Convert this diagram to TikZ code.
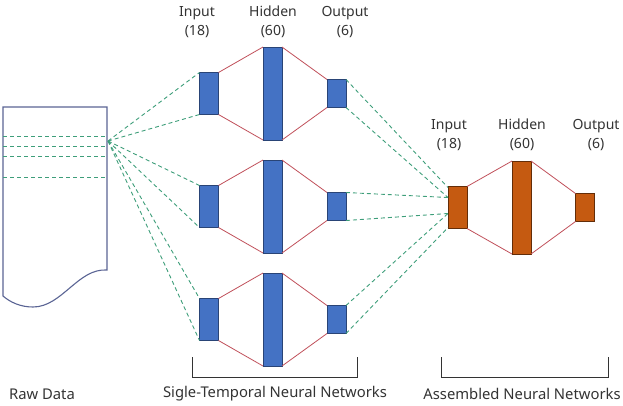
\documentclass[tikz,border=0pt]{standalone}
\usepackage{fontspec}
\setmainfont{Noto Sans}
\usetikzlibrary{positioning,calc}
\definecolor{netblue}{HTML}{4472C4}
\definecolor{netorange}{HTML}{C55A11}
\definecolor{linkred}{HTML}{C0505A}
\definecolor{feedgreen}{HTML}{3E9E7A}
\definecolor{docline}{HTML}{5A6494}
\definecolor{txt}{HTML}{333333}

\begin{document}
\begin{tikzpicture}[x=1pt, y=-1pt,
  layer/.style={rectangle, draw=netblue!60!black, fill=netblue, line width=0.8pt, inner sep=0pt, outer sep=0pt, minimum width=19pt},
  alayer/.style={layer, draw=netorange!50!black, fill=netorange},
  inl/.style={minimum height=42pt},
  hidl/.style={minimum height=93pt},
  outl/.style={minimum height=28pt},
  link/.style={linkred, line width=0.8pt},
  feed/.style={feedgreen, line width=0.9pt, dash pattern=on 4pt off 3pt},
  lbl/.style={font=\fontsize{14}{19.5}\selectfont, text=txt, align=center, inner sep=0pt},
  caption/.style={font=\fontsize{14.8}{17}\selectfont, text=txt, inner sep=0pt}
]
  \useasboundingbox (0,0) rectangle (623,405);

  % raw data sheet
  \draw[docline, line width=1.1pt] (3,107) -- (107,107) -- (107,270)
    .. controls (78,268) and (62,307) .. (33,307)
    .. controls (20,307) and (10,302) .. (3,296) -- cycle;
  \foreach \y in {136,146,156,177}
    \draw[feed] (3,\y) -- (107,\y);
  \coordinate (src) at (108,141);

  % single-temporal networks
  \foreach \i/\y in {1/93.5, 2/206.5, 3/319.5} {
    \node[layer, inl] (in\i) at (209,\y) {};
    \node[layer, hidl] (hid\i) at (272.5,\y) {};
    \node[layer, outl] (out\i) at (336.5,\y) {};
    \draw[link] (in\i.north east) -- (hid\i.north west);
    \draw[link] (in\i.south east) -- (hid\i.south west);
    \draw[link] (hid\i.north east) -- (out\i.north west);
    \draw[link] (hid\i.south east) -- (out\i.south west);
    \draw[feed] (src) -- (in\i.north west);
    \draw[feed] (src) -- (in\i.south west);
  }
  \node[lbl] at (197,22) {Input\\(18)};
  \node[lbl] at (273,22) {Hidden\\(60)};
  \node[lbl] at (345,22) {Output\\(6)};

  % assembled network
  \node[alayer, inl] (ain) at (457.5,207.5) {};
  \node[alayer, hidl] (ahid) at (521.5,207.5) {};
  \node[alayer, outl] (aout) at (585,207.5) {};
  \draw[link] (ain.north east) -- (ahid.north west);
  \draw[link] (ain.south east) -- (ahid.south west);
  \draw[link] (ahid.north east) -- (aout.north west);
  \draw[link] (ahid.south east) -- (aout.south west);
  \node[lbl] at (449,135) {Input\\(18)};
  \node[lbl] at (522,135) {Hidden\\(60)};
  \node[lbl] at (596,135) {Output\\(6)};

  \coordinate (a1) at ($(ain.north west)+(0,1)$);
  \coordinate (a2) at ($(ain.west)+(0,-10)$);
  \coordinate (a3) at ($(ain.west)+(0,6)$);
  \coordinate (a4) at ($(ain.south west)+(0,-1)$);
  \draw[feed] (out1.north east) -- (a1);
  \draw[feed] (out1.south east) -- (a2);
  \draw[feed] (out2.north east) -- (a2);
  \draw[feed] (out2.south east) -- (a3);
  \draw[feed] (out3.north east) -- (a3);
  \draw[feed] (out3.south east) -- (a4);

  % brackets and captions
  \draw[txt, line width=0.8pt] (192,357) -- (192,377) -- (357,377) -- (357,357);
  \draw[txt, line width=0.8pt] (441,357) -- (441,377) -- (608,377) -- (608,357);
  \node[caption] at (42,394) {Raw Data};
  \node[caption] at (275,394) {Sigle-Temporal Neural Networks};
  \node[caption] at (522,394) {Assembled Neural Networks};
\end{tikzpicture}
\end{document}
